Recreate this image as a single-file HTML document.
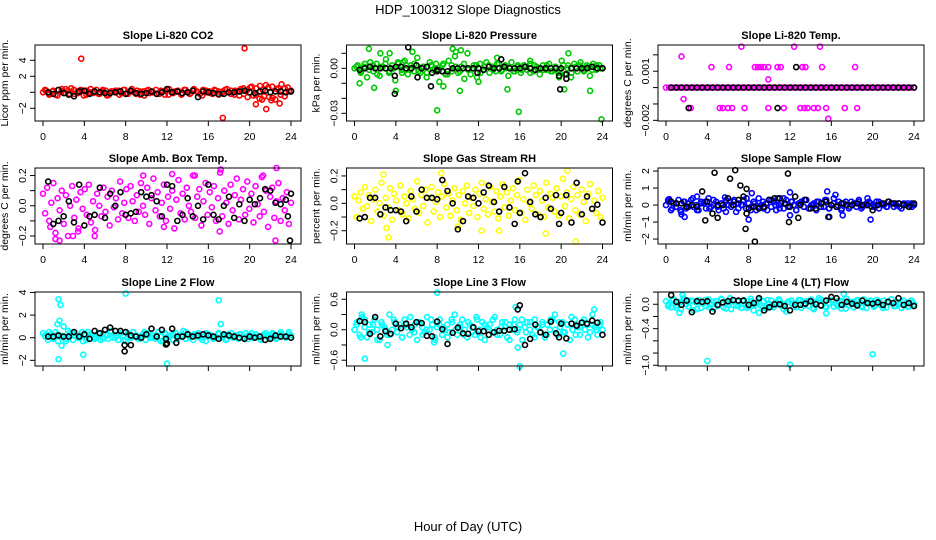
<!DOCTYPE html>
<html><head><meta charset="utf-8"><style>
html,body{margin:0;padding:0;background:#fff;}
svg{display:block;font-family:"Liberation Sans",sans-serif;}
</style></head><body>
<svg id="chart" width="936" height="540" viewBox="0 0 936 540" xmlns="http://www.w3.org/2000/svg">
<rect x="0" y="0" width="936" height="540" fill="#fff"/>
<text x="468" y="14" font-size="13" text-anchor="middle">HDP_100312  Slope Diagnostics</text>
<text x="468" y="531" font-size="13" text-anchor="middle">Hour of Day (UTC)</text>
</svg>
<script>
// ---- data ----
const p1Col=[0,.2,-.2,.1,-.3,.3,.4,-.1,.2,.5,-.2,.1,.3,-.4,.2,0,-.1,.3,-.2,.1,.2,-.3,.1,0,.2,-.1,.3,-.2,.1,0,.2,-.3,.1,.2,-.1,0,.3,-.2,.1,.2,-.3,0,.1,.2,-.2,.3,0,-.1,.2,.1,-.2,.3,0,.1,-.2,.2,.1,-.1,.3,0,.2,-.3,.1,.4,-.2,.3,.6,-.4,.5,-.8,.3,.9,-.6,.7,-.9,.5,1.0,-.5,.6,.2];
const p1Col2=[.3,-.3,.2,-.4,.1,.4,-.2,.3,-.1,.2,-.3,.4,0,-.2,.3,-.4,.1,.2,-.3,.3,-.1,.4,-.2,.1,-.4,.3,0,-.2,.2,-.3,.4,-.1,.1,-.3,.3,-.2,.4,0,-.4,.2,-.1,.3,-.3,.1,.4,-.2,.2,-.4,.5,-.6,.7,-.3,.8,-.5,.6,-.7,.4,-.3,.5,.1];
const p1ColOutX=[3.7,19.5,17.4,20.6,21.6,22.9,21.2,22.1];
const p1ColOutY=[4.2,5.5,-3.2,-1.5,-2.1,-1.4,-0.9,-1.0];
const p1Blk=[0,-.2,.3,-.1,-.3,-.5,.1,.2,-.2,.1,0,-.1,-.1,0,.1,-.2,.2,-.1,-.2,-.1,.1,-.2,0,.4,0,.1,-.1,0,.2,-.6,.1,0,-.1,-.2,-.2,0,0,.1,.2,0,-.1,.1,.2,0,.1,.1,0,.1];
const p1BlkOutX=[];const p1BlkOutY=[];

const p2Col=[0,.002,-.003,.001,-.006,.004,-.002,.003,-.005,.001,.006,-.003,.002,-.008,.003,-.001,.005,-.004,.002,-.002,.007,-.003,.001,-.006,.004,-.001,.003,-.009,.002,-.004,.005,-.002,.008,-.003,.001,-.007,.01,-.004,.002,-.006,.003,-.001,.004,-.003,.001,-.002,.003,-.001,.002,-.005,.004,-.002,.001,-.003,.002,-.001,.003,-.002,.001,-.004,.002,-.001,.003,-.002,.001,-.003,.005,-.004,.002,-.006,.003,-.002,.004,-.001,.002,-.005,.003,-.001,.002,0];
const p2Col2=[.001,-.002,.003,-.001,.002,-.004,.001,.003,-.002,0,.004,-.003,.002,-.001,.003,-.002,.001,-.003,.002,0,-.001,.003,-.004,.002,.001,-.002,.003,-.001,0,.002,-.003,.001,.002,-.001,.003,-.002,0,.001,-.002,.002,-.001,.001,-.003,.002,0,-.001,.002,-.002,.001,-.001,.002,0,-.003,.001,.002,-.002,.001,-.001,.002,0];
const p2ColOutX=[1.4,2.5,3.4,4.7,5.6,8.0,9.5,9.8,10.3,15.9,20.7,23.9,0.5,1.9,4.0,8.6,10.2,14.8,20.3,22.8,13.8,17.0,12.0,19.8];
const p2ColOutY=[.013,.01,.01,.004,.011,-.028,.013,.011,.012,-.029,.01,-.034,-.01,-.013,-.015,-.012,-.015,-.014,-.014,-.015,.007,.005,-.009,-.006];
const p2Blk=[-.001,0,.001,0,0,0,0,.001,.001,0,0,.002,0,.001,-.003,-.001,-.002,-.002,0,0,0,0,0,0,-.001,.001,0,0,.001,0,0,0,.001,0,-.001,0,0,0,0,0,-.004,0,0,0,0,.001,0,0];
const p2BlkOutX=[5.2,14.2,3.9,3.9,7.4,8.0,19.9,20.5,19.8,11.9,6.1];
const p2BlkOutY=[.014,.006,-.017,-.005,-.012,-.002,-.014,-.007,-.005,-.003,-.006];

const p3Col=[0,0,0,0,0,0,0,0,0,0,0,0,0,0,0,0,0,0,0,0,0,0,0,0,0,0,0,0,0,0,0,0,0,0,0,0,0,0,0,0,0,0,0,0,0,0,0,0,0,0,0,0,0,0,0,0,0,0,0,0,0,0,0,0,0,0,0,0,0,0,0,0,0,0,0,0,0,0,0,0];
const p3Col2=[];
const p3ColOutX=[4.4,6.1,8.6,8.9,9.2,9.5,9.9,10.8,11.1,13.2,13.5,15.1,18.3,7.3,12.4,14.9,1.5,9.9,1.7,2.4,5.2,5.5,6.0,6.4,7.6,9.9,11.4,13.0,13.4,13.7,14.3,14.7,15.5,17.3,18.5,15.7];
const p3ColOutY=[.00125,.00125,.00125,.00125,.00125,.00125,.00125,.00125,.00125,.00125,.00125,.00125,.00125,.0025,.0025,.0025,.0019,.0005,-.0007,-.00125,-.00125,-.00125,-.00125,-.00125,-.00125,-.00125,-.00125,-.00125,-.00125,-.00125,-.00125,-.00125,-.00125,-.00125,-.00125,-.0019];
const p3Blk=[0,0,0,0,0,0,0,0,0,0,0,0,0,0,0,0,0,0,0,0,0,0,0,0,0,0,0,0,0,0,0,0,0,0,0,0,0,0,0,0,0,0,0,0,0,0,0,0];
const p3BlkOutX=[12.6,2.2,10.8];const p3BlkOutY=[.00125,-.00125,-.00125];

const p4Col=[.08,-.05,.12,-.1,.02,.15,-.18,.05,-.03,.1,-.12,.07,-.2,0,.13,-.08,.04,-.15,.09,-.02,.11,-.06,.14,-.11,.03,-.16,.08,0,-.07,.12,-.04,.06,-.13,.1,-.01,.05,-.09,.16,-.05,.02,.11,-.08,.13,.03,-.1,.07,-.04,.15,0,-.06,.12,-.12,.05,.18,-.03,.09,-.07,.02,.14,-.1,.06,-.02,.1,-.15,.04,.17,-.05,.08,-.09,.12,0,-.04,.2,-.08,.06,.11,-.13,.03,.15,-.06,.09,-.01,.13,-.1,.05,.22,-.07,.1,.02,-.12,.14,-.03,.07,.18,-.09,.04,.11,-.06,.16,-.02,.08,-.11,.13,.01,-.07,.19,-.04,.1,-.14,.06,.12,-.08,.03,.15,-.1,.05,-.03,.09,-.12,.02];
const p4Col2=[];
const p4ColOutX=[0.7,1.2,1.6,2.9,5.0,11.7,12.5,17.2,17.1,21.3,22.5,22.6,9.7,14.7,3.4];
const p4ColOutY=[-.14,-.22,-.23,-.2,-.2,-.14,.21,.24,-.17,.2,-.23,.25,.2,.2,-.17];
const p4Blk=[.16,-.12,-.1,-.07,.03,-.11,.14,-.13,-.07,-.06,.12,-.08,.08,0,.09,-.06,-.05,-.04,.09,.06,.07,.03,-.07,.14,.13,-.1,-.06,.05,-.07,0,-.09,.14,-.06,-.09,0,.06,-.08,.01,-.1,.04,.01,.05,.11,.1,.02,.01,.04,.08];
const p4BlkOutX=[23.9,23.7];const p4BlkOutY=[-.23,-.07];

const p5Col=[.05,-.1,.02,.08,-.04,.12,-.02,.06,-.13,.03,.1,-.06,0,.15,-.09,.04,-.03,.11,-.12,.07,.02,-.05,.13,-.08,.05,0,-.11,.09,.03,-.04,.16,-.07,.06,-.02,.1,-.14,.04,.12,-.06,.01,.08,-.1,.05,.14,-.03,.07,-.09,.02,.11,-.05,.06,-.12,.09,0,.13,-.07,.04,-.02,.1,-.1,.07,.15,-.04,.03,-.08,.12,.01,-.06,.09,-.11,.05,.14,-.03,.08,-.09,.02,.11,-.05,.06,.17,-.07,.03,-.12,.1,0,-.04,.13,.06,-.08,.09,.02,-.1,.15,-.03,.07,.04,-.06,.11,-.09,.05,.18,-.02,.08,-.11,.03,.12,-.05,.06,-.08,.1,.01,-.13,.07,.14,-.04,.02,-.07,.09,-.1,.04];
const p5Col2=[];
const p5ColOutX=[3.3,12.3,14.0,18.5,21.4,20.6,8.4,2.8,3.1,10.0];
const p5ColOutY=[-.25,-.2,-.2,-.22,-.28,.24,.22,.21,-.18,-.17];
const p5Blk=[-.11,-.1,.04,.04,-.08,-.03,-.05,-.05,-.06,-.13,.05,-.06,.1,.04,.04,.03,.17,.09,0,-.19,-.13,.05,.04,0,.08,.13,.01,-.06,.12,-.03,-.15,-.07,.22,.01,-.08,-.1,.04,-.04,.06,-.07,.06,-.14,.15,-.08,.05,-.04,-.01,-.14];
const p5BlkOutX=[15.8,19.8];const p5BlkOutY=[.16,-.15];

const p6Col=[0,.2,-.3,.1,-.1,.3,-.4,.2,-.2,.1,.3,-.1,0,-.3,.2,.1,-.2,.4,-.1,0,.2,-.3,.1,-.2,.3,0,-.1,.2,-.4,.1,0,.3,-.2,.1,-.1,.2,-.3,.4,0,-.2,.1,.3,-.1,.2,-.3,0,.1,-.2,.3,-.1,.2,0,-.3,.1,.2,-.1,.3,-.2,0,.1,-.3,.2,.1,-.1,.3,-.2,0,.4,-.1,.2,-.3,.1,0,-.2,.2,.1,-.1,.3,-.2,0,.1,.2,-.1,0,.2,-.2,.1,0,-.1,.2,.1,-.1,0,.1,-.2,.1,0,-.1,.1,0];
const p6Col2=[.3,-.2,.1,-.3,.2,-.1,.4,-.3,.1,.2,-.2,.3,-.1,.1,-.4,.2,.3,-.2,0,.4,-.3,.1,-.1,.2,-.3,.3,0,-.2,.4,-.1,.2,-.3,.1,.3,-.2,0,.2,-.1,.3,-.2,.1,0,-.2,.2,-.1,.1,.2,-.1,0,.1,-.1,.2,0,-.1,.1,.1,-.1,0,.1,-.1];
const p6ColOutX=[0.3,1.5,1.8,3.0,5.7,8.0,8.3,12.0,12.0,15.6,15.7,16.4,17.1,19.8,19.5,10.8];
const p6ColOutY=[.35,-.55,-.7,.5,.45,-.85,.7,.75,-.6,.8,-.7,.6,-.6,-.85,.4,.4];
const p6Blk=[.2,.1,.1,-.1,0,-.1,.8,.2,-.5,0,0,.4,0,.3,.5,-.2,-.1,-.2,-.1,.3,.4,.4,.1,-.1,.5,0,.3,-.2,-.2,.1,.2,0,-.1,.1,0,0,.1,0,0,-.3,0,.1,.2,.1,.1,0,-.1,.1];
const p6BlkOutX=[4.7,6.7,6.2,7.2,7.8,11.8,7.7,8.6,11.9,5.0,3.8,7.8,15.8,12.8];
const p6BlkOutY=[1.9,2.05,1.55,1.15,.95,1.85,-1.4,-2.15,-1.0,-.75,-.9,-.5,-.7,-.75];

const p7Col=[.4,.1,-.2,.3,0,.5,-.3,.2,.1,-.1,.6,.2,-.2,.4,0,.1,-.3,.3,.5,-.1,.2,0,.4,-.2,.1,.3,-.1,.6,0,.2,-.2,.4,.1,-.3,.3,0,.5,.2,-.1,.1,.3,-.2,.4,0,.2,-.1,.5,.1,-.3,.3,.1,.2,-.2,.4,0,.2,.6,-.1,.3,.1,-.2,.2,.4,0,.1,-.3,.3,.2,-.1,.1,.4,0,.2,-.2,.3,.1,0,.2,-.1,.3,.1,.4,-.1,.2,0,.3,.1,-.2,.2,.4,0,.1,.3,-.1,.2,.5,.1,0,.3,.2];
const p7Col2=[.2,.5,-.1,.3,.1,-.3,.4,.2,0,.5,-.2,.3,.1,.4,-.1,.2,.5,0,.3,-.2,.4,.1,.2,-.1,.5,.3,0,.2,-.3,.4,.1,.3,-.1,.2,.5,0,.3,.1,-.2,.4,.2,0,.3,.1,-.1,.4,.2,.3,0,.2,.4,.1,-.1,.3,.2,.4,0,.3,.1,.5];
const p7ColOutX=[1.5,1.7,1.6,1.4,1.8,1.5,3.9,8.0,12.0,17.0,17.2,5.0,2.0];
const p7ColOutY=[3.4,2.9,1.5,1.2,-.7,-1.9,-1.5,3.9,-2.3,3.3,1.2,-.1,1.0];
const p7Blk=[.1,.1,.2,.1,.1,.5,.1,.3,-.1,.6,.4,.7,.9,.6,.6,.5,.2,.1,0,.3,.8,.1,.7,-.5,.8,.1,.1,.3,.1,.2,.3,.2,.1,-.1,.3,.2,.1,0,-.1,.1,0,.1,-.2,-.1,.2,.1,.1,0];
const p7BlkOutX=[7.9,7.9,8.5,11.9,12.9,11.9];
const p7BlkOutY=[-1.2,-.65,-.65,-.6,-.45,-.1];

const p8Col=[0,.15,-.1,.25,.05,-.15,.1,-.05,.2,0,-.2,.1,.05,-.1,.3,0,.15,-.05,.1,-.15,.2,.05,-.1,0,.1,-.2,.15,.05,-.05,.25,0,.1,-.15,.05,.2,-.1,0,.1,-.05,.15,.3,-.1,.05,.2,0,-.15,.1,.05,-.1,.2,0,.15,-.2,.05,.1,-.05,.25,0,-.1,.15,.05,-.15,.1,0,.2,-.05,.1,-.2,.05,.15,0,-.1,.2,.05,-.05,.15,-.15,.1,0,.2,.3,-.1,.05,.15,-.05,.1,-.2,0,.2,.05,-.1,.15,0,.1,-.05,.3,.05,-.1,.1,0];
const p8Col2=[.1,-.15,.2,-.05,.1,-.2,.15,0,-.1,.2,.05,-.15,.1,.25,-.05,.15,-.1,0,.2,-.2,.1,.05,-.15,.2,0,.1,-.1,.15,-.05,.25,-.15,.1,0,.2,-.1,.05,.15,-.2,.1,0,.2,-.05,.15,-.15,.05,.1,-.1,.2,0,.15,-.05,.1,.25,-.1,.05,.2,-.15,.1,0,.15];
const p8ColOutX=[8.0,1.0,16.0,20.2,23.2,15.8,0.7,7.7,3.2,15.6];
const p8ColOutY=[.73,-.57,-.72,-.47,.4,-.35,.3,-.25,-.3,.45];
const p8Blk=[.17,.15,-.08,.25,-.13,-.03,-.08,.12,.03,.12,.05,.15,.13,-.12,-.13,.16,.01,-.28,-.06,.04,-.07,-.08,.05,-.03,-.03,-.1,-.05,-.02,-.02,0,.01,.48,-.3,-.18,.1,-.05,-.1,.16,-.07,.12,-.17,.12,.08,.14,.12,.18,.14,-.1];
const p8BlkOutX=[15.8,19.8];const p8BlkOutY=[.4,-.15];

const p9Col=[.05,0,-.05,.08,-.02,.04,-.08,.1,0,-.04,.06,-.1,.03,.07,-.06,.02,-.03,.08,0,-.07,.05,-.02,.09,-.05,.03,0,-.08,.06,-.02,.04,-.06,.07,0,-.04,.05,-.1,.02,.08,-.03,.05,-.07,.01,.06,-.05,.03,.08,-.02,0,-.12,.04,.06,-.04,.02,.07,-.06,0,.05,-.03,.08,-.08,.03,.1,-.02,.05,-.05,.02,.07,-.04,0,.06,-.07,.03,.09,-.02,.04,-.05,.06,0,-.03,.08,-.06,.02,.05,-.04,.07,0,-.02,.06,-.05,.03,.08,-.03,.04,0,-.06,.05,.02,-.04,.06,0];
const p9Col2=[-.03,.06,-.06,.03,.08,-.04,.05,-.08,.02,.07,-.05,.04,-.02,.08,-.07,.03,.06,-.03,.05,-.06,.09,-.01,.04,-.05,.07,-.03,.02,.06,-.08,.04,.01,-.05,.07,-.02,.05,-.06,.03,.08,-.04,.02,.06,-.03,.05,-.07,.04,.01,.07,-.05,.03,.06,-.02,.05,-.06,.04,.08,-.03,.02,.06,-.04,.03];
const p9ColOutX=[4.0,12.0,20.0,17.2,1.6,15.5,6.2,1.3,9.0];
const p9ColOutY=[-.93,-.99,-.82,.17,.15,-.15,.1,-.14,-.14];
const p9Blk=[.15,.04,-.01,.06,-.13,.05,.04,.05,-.12,-.01,.03,.05,.07,.06,.06,-.01,.02,.1,-.1,-.05,0,0,-.03,-.1,-.01,-.01,.01,.05,0,-.02,.06,.12,.1,-.01,.04,.01,-.02,.06,.02,.01,.03,-.01,.04,.02,.1,-.01,.02,-.03];
const p9BlkOutX=[];const p9BlkOutY=[];

const xTicks=[0,4,8,12,16,20,24];
const titles=["Slope Li-820 CO2","Slope Li-820 Pressure","Slope Li-820 Temp.","Slope Amb. Box Temp.","Slope Gas Stream RH","Slope Sample Flow","Slope Line 2 Flow","Slope Line 3 Flow","Slope Line 4 (LT) Flow"];
const yTitles=["Licor ppm per min.","kPa per min.","degrees C per min.","degrees C per min.","percent per min.","ml/min per min.","ml/min per min.","ml/min per min.","ml/min per min."];
const yTicks=[[4,2,0,-2],[.01,0,-.01,-.02,-.03],[.002,.001,0,-.001,-.002],[.2,.1,0,-.1,-.2],[.2,.1,0,-.1,-.2],[2,1,0,-1,-2],[4,2,0,-2],[.6,.3,0,-.3,-.6],[.2,0,-.2,-.4,-.6,-.8,-1]];
const yTickLabels=[["4","2","","-2"],["","0.00","","","-0.03"],["","0.001","","","-0.002"],["0.2","","0.0","","-0.2"],["0.2","","0.0","","-0.2"],["2","1","0","-1","-2"],["4","2","0","-2"],["0.6","","0.0","","-0.6"],["","0.0","","-0.4","","","-1.0"]];
const yTop=[5.91,.01553,.0026,.25,.258,2.18,4.04,.743,.201];
const yBot=[-3.59,-.03513,-.00204,-.253,-.297,-2.29,-2.5,-.714,-1.012];
const colors=["#ff0000","#00c800","#ff00ff","#ff00ff","#ffff00","#0000ff","#00ffff","#00ffff","#00ffff"];
const colVals=[p1Col,p2Col,p3Col,p4Col,p5Col,p6Col,p7Col,p8Col,p9Col];
const colVals2=[p1Col2,p2Col2,p3Col2,p4Col2,p5Col2,p6Col2,p7Col2,p8Col2,p9Col2];
const colOutX=[p1ColOutX,p2ColOutX,p3ColOutX,p4ColOutX,p5ColOutX,p6ColOutX,p7ColOutX,p8ColOutX,p9ColOutX];
const colOutY=[p1ColOutY,p2ColOutY,p3ColOutY,p4ColOutY,p5ColOutY,p6ColOutY,p7ColOutY,p8ColOutY,p9ColOutY];
const blkVals=[p1Blk,p2Blk,p3Blk,p4Blk,p5Blk,p6Blk,p7Blk,p8Blk,p9Blk];
const blkOutX=[p1BlkOutX,p2BlkOutX,p3BlkOutX,p4BlkOutX,p5BlkOutX,p6BlkOutX,p7BlkOutX,p8BlkOutX,p9BlkOutX];
const blkOutY=[p1BlkOutY,p2BlkOutY,p3BlkOutY,p4BlkOutY,p5BlkOutY,p6BlkOutY,p7BlkOutY,p8BlkOutY,p9BlkOutY];

// ---- layout ----
const NS="http://www.w3.org/2000/svg";
const svg=document.getElementById('chart');
const colLeft=[35,346.5,658], boxW=266;
const rowTop=[45,168,292], boxH=[76,76,74];
function mk(tag,attrs,parent){const e=document.createElementNS(NS,tag);for(const k in attrs)e.setAttribute(k,attrs[k]);(parent||svg).appendChild(e);return e;}

for(let p=0;p<9;p++){
  const c=p%3,r=Math.floor(p/3);
  const L=colLeft[c],T=rowTop[r],W=boxW,H=boxH[r];
  const x0=L+8, x24=L+256;
  const xs=h=>x0+(x24-x0)*h/24;
  const ys=v=>T+(yTop[p]-v)/(yTop[p]-yBot[p])*H;
  const g=mk('g',{});
  
  
  const t=mk('text',{x:L+W/2,y:T-6,'font-size':11,'font-weight':'bold','text-anchor':'middle'},g);
  
  
  t.textContent=titles[p];
  const yt=mk('text',{x:L-27,y:T+H/2,'font-size':10.5,'text-anchor':'middle',transform:`rotate(-90 ${L-27} ${T+H/2})`},g);
  
  
  yt.textContent=yTitles[p];
  const pts=mk('g',{fill:'none','stroke-width':1.6},g);
  
  
  const n=colVals[p].length;
  colVals[p].forEach((v,i)=>{const e=mk('circle',{cx:xs(i*24/(n-1)),cy:ys(v),r:2.5,stroke:colors[p]},pts);
    
    });
  const n2=colVals2[p].length;
  colVals2[p].forEach((v,i)=>{const e=mk('circle',{cx:xs(0.2+i*23.6/(n2-1)),cy:ys(v),r:2.5,stroke:colors[p]},pts);
    
    });
  colOutX[p].forEach((h,i)=>{const e=mk('circle',{cx:xs(h),cy:ys(colOutY[p][i]),r:2.5,stroke:colors[p]},pts);
    
    });
  blkVals[p].forEach((v,i)=>{const e=mk('circle',{cx:xs(0.5*(i+1)),cy:ys(v),r:2.5,stroke:'#000'},pts);
    
    });
  blkOutX[p].forEach((h,i)=>{const e=mk('circle',{cx:xs(h),cy:ys(blkOutY[p][i]),r:2.5,stroke:'#000'},pts);
    
    });
  const b=mk('rect',{x:L,y:T,width:W,height:H,fill:'none',stroke:'#000','stroke-width':1},g);
  
  
  const xa=mk('g',{},g);
  
  
  const yb=T+H;
  mk('line',{x1:xs(0),x2:xs(24),y1:yb,y2:yb,stroke:'#000'},xa);
  xTicks.forEach(h=>{mk('line',{x1:xs(h),x2:xs(h),y1:yb,y2:yb+5,stroke:'#000'},xa);
    if(r<2){const tl=mk('text',{x:xs(h),y:yb+19,'font-size':10.5,'text-anchor':'middle'},xa);
      
      
      tl.textContent=h;}});
  const ya=mk('g',{},g);
  
  
  const tks=yTicks[p].filter(v=>v<=yTop[p]&&v>=yBot[p]);
  mk('line',{x1:L,x2:L,y1:ys(Math.max(...tks)),y2:ys(Math.min(...tks)),stroke:'#000'},ya);
  yTicks[p].forEach((v,i)=>{if(v>yTop[p]||v<yBot[p])return;
    mk('line',{x1:L-5,x2:L,y1:ys(v),y2:ys(v),stroke:'#000'},ya);
    const lab=yTickLabels[p][i]; if(!lab)return;
    const lx=L-9,ly=ys(v);
    const tl=mk('text',{x:lx,y:ly,'font-size':10.5,'text-anchor':'middle',transform:`rotate(-90 ${lx} ${ly})`},ya);
    
    
    tl.textContent=lab.replace('-','\u2212');});
}
</script>
</body></html>
